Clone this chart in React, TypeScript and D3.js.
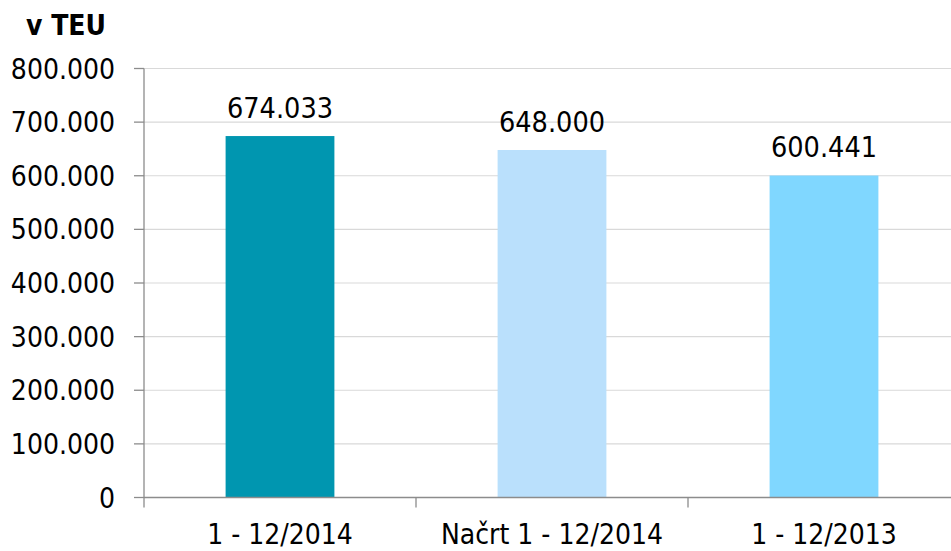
import React from "react";
import * as d3 from "d3";

const categories = ["1 - 12/2014", "Načrt 1 - 12/2014", "1 - 12/2013"];
const values = [674033, 648000, 600441];
const valueLabels = ["674.033", "648.000", "600.441"];
const barColors = ["#0096B0", "#BAE0FC", "#80D7FF"];
const yTicks = [0, 100000, 200000, 300000, 400000, 500000, 600000, 700000, 800000];
const yTickLabels = ["0", "100.000", "200.000", "300.000", "400.000", "500.000", "600.000", "700.000", "800.000"];
const yTitle = "v TEU";

const W = 951;
const H = 551;
const FONT = "'DejaVu Sans Condensed', 'DejaVu Sans', sans-serif";

export default function App() {
  const x = d3.scaleBand<string>().domain(categories).range([144, 960]).padding(0);
  const y = d3.scaleLinear().domain([0, 800000]).range([497.5, 68.5]);
  const step = x.step();
  const bw = step * 0.4;
  const x0 = 144;
  const y0 = y(0);

  return (
    <svg
      width={W}
      height={H}
      style={{ position: "fixed", top: 0, left: 0, background: "#fff" }}
      fontFamily={FONT}
    >
      {yTicks.map((t, i) =>
        t === 0 ? null : (
          <line key={"g" + i} x1={x0} x2={W} y1={y(t)} y2={y(t)} stroke="#D9D9D9" strokeWidth={1.2} />
        )
      )}
      {categories.map((c, i) => (
        <rect
          key={"b" + i}
          x={(x(c) as number) + (step - bw) / 2}
          y={y(values[i])}
          width={bw}
          height={y0 - y(values[i])}
          fill={barColors[i]}
        />
      ))}
      <line x1={x0} x2={x0} y1={y(800000)} y2={y0 + 10} stroke="#8C8C8C" strokeWidth={1.3} />
      <line x1={x0} x2={W} y1={y0} y2={y0} stroke="#8C8C8C" strokeWidth={1.3} />
      {yTicks.map((t, i) => (
        <line key={"yt" + i} x1={x0 - 10} x2={x0} y1={y(t)} y2={y(t)} stroke="#8C8C8C" strokeWidth={1.3} />
      ))}
      {categories.map((c, i) => {
        const bx = (x(c) as number) + step;
        return bx < W ? (
          <line key={"xt" + i} x1={bx} x2={bx} y1={y0} y2={y0 + 10} stroke="#8C8C8C" strokeWidth={1.3} />
        ) : null;
      })}
      {yTicks.map((t, i) => (
        <text key={"yl" + i} x={115} y={y(t)} dy="0.36em" textAnchor="end" fontSize={28} fill="#000">
          {yTickLabels[i]}
        </text>
      ))}
      {categories.map((c, i) => (
        <text
          key={"xl" + i}
          x={(x(c) as number) + step / 2}
          y={544}
          textAnchor="middle"
          fontSize={28}
          fill="#000"
        >
          {c}
        </text>
      ))}
      {categories.map((c, i) => (
        <text
          key={"vl" + i}
          x={(x(c) as number) + step / 2}
          y={y(values[i]) - 18.5}
          textAnchor="middle"
          fontSize={28.5}
          fill="#000"
        >
          {valueLabels[i]}
        </text>
      ))}
      <text x={26} y={35} fontSize={28} fontWeight="bold" fill="#000">
        {yTitle}
      </text>
    </svg>
  );
}
